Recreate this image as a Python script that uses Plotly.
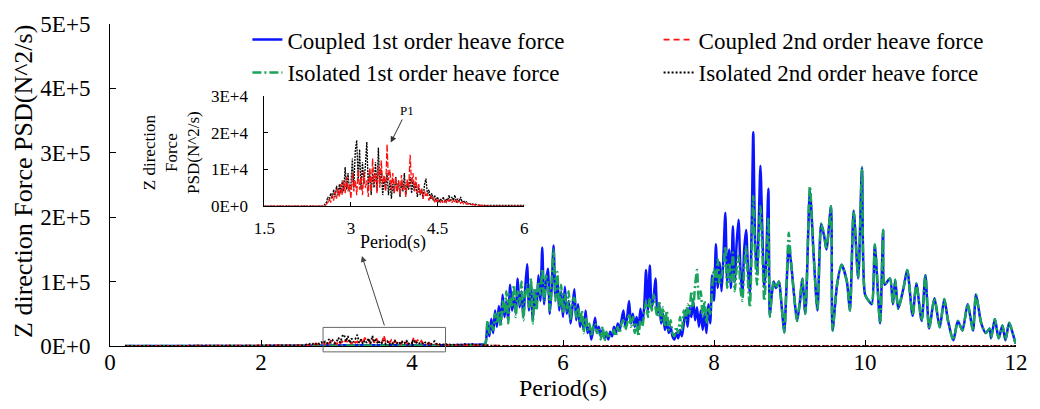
import plotly.graph_objects as go

# ---------------- data (PSD values; 1st order in units of 1E+5, 2nd order in units of 1E+4) -------------
period_1st = [
    0.2, 1.0, 2.0, 2.6, 3.0, 3.5, 4.0, 4.5, 4.8, 4.95,
    4.975,
    5.0, 5.025, 5.05, 5.075, 5.1, 5.125, 5.15, 5.175,
    5.2, 5.225, 5.25, 5.275, 5.3, 5.325, 5.35, 5.375,
    5.4, 5.425, 5.45, 5.475, 5.5, 5.525, 5.55, 5.575,
    5.6, 5.625, 5.65, 5.675, 5.7, 5.725, 5.75, 5.775,
    5.8, 5.825, 5.85, 5.875, 5.9, 5.925, 5.95, 5.975,
    6.0, 6.025, 6.05, 6.075, 6.1, 6.125, 6.15, 6.175,
    6.2, 6.225, 6.25, 6.275, 6.3, 6.325, 6.35, 6.375,
    6.4, 6.425, 6.45, 6.475, 6.5, 6.525, 6.55, 6.575,
    6.6, 6.625, 6.65, 6.675, 6.7, 6.725, 6.75, 6.775,
    6.8, 6.825, 6.85, 6.875, 6.9, 6.925, 6.95, 6.975,
    7.0, 7.025, 7.05, 7.075, 7.1, 7.125, 7.15, 7.175,
    7.2, 7.225, 7.25, 7.275, 7.3, 7.325, 7.35, 7.375,
    7.4, 7.425, 7.45, 7.475, 7.5, 7.525, 7.55, 7.575,
    7.6, 7.625, 7.65, 7.675, 7.7, 7.725, 7.75, 7.775,
    7.8, 7.825, 7.85, 7.875, 7.9, 7.925, 7.95, 7.975,
    8.0, 8.025, 8.05, 8.075, 8.1, 8.125, 8.15, 8.175,
    8.2, 8.225, 8.25, 8.275, 8.3, 8.325, 8.35, 8.375,
    8.4, 8.425, 8.45, 8.475, 8.5,
    8.52, 8.545, 8.57, 8.595, 8.615, 8.64, 8.665, 8.69, 8.72, 8.74,
    8.765, 8.79, 8.82, 8.86, 8.89, 8.93, 8.96, 8.99, 9.02, 9.06,
    9.1, 9.14, 9.17, 9.21, 9.27, 9.32, 9.37, 9.42, 9.46, 9.49,
    9.55, 9.57, 9.63, 9.69, 9.76, 9.8, 9.85, 9.91, 9.96, 10.0,
    10.05, 10.09, 10.13, 10.2, 10.24, 10.26, 10.33, 10.37, 10.4, 10.44,
    10.51, 10.56, 10.63, 10.68, 10.75, 10.8, 10.85, 10.92, 10.99, 11.05,
    11.1, 11.17, 11.23, 11.29, 11.36, 11.43, 11.47, 11.54, 11.6, 11.65,
    11.67, 11.72, 11.77, 11.82, 11.86, 11.91, 11.99, 12.0,
]

coupled_1st = [
    0, 0, 0, 0.005, 0.01, 0.01, 0.01, 0.012, 0.02, 0.03,
    0.05,
    0.35, 0.15, 0.42, 0.20, 0.55, 0.30, 0.62, 0.35,
    0.80, 0.45, 0.70, 0.40, 0.95, 0.55, 0.75, 0.50,
    1.05, 0.60, 0.85, 0.45, 0.90, 1.27, 0.55, 0.95,
    0.40, 0.85, 0.60, 1.10, 0.70, 1.53, 0.65, 1.00,
    1.20, 0.50, 0.90, 1.56, 0.75, 1.05, 0.55, 0.85,
    0.45, 0.92, 0.50, 0.70, 0.35, 0.60, 0.88, 0.40,
    0.65, 0.30, 0.45, 0.25, 0.55, 0.20, 0.30, 0.10,
    0.25, 0.44, 0.20, 0.30, 0.15, 0.25, 0.12, 0.20,
    0.10, 0.22, 0.15, 0.30, 0.20, 0.35, 0.25, 0.40,
    0.55, 0.30, 0.45, 0.70, 0.35, 0.50, 0.30, 0.45,
    0.25, 0.58, 0.35, 0.60, 1.18, 0.55, 1.25, 0.60,
    0.75, 1.05, 0.50, 0.65, 0.35, 0.50, 0.25, 0.40,
    0.20, 0.30, 0.15, 0.10, 0.20, 0.12, 0.25, 0.15,
    0.35, 0.55, 0.30, 0.60, 0.45, 0.70, 0.40, 0.60,
    0.30, 0.55, 0.25, 0.50, 0.20, 0.65, 0.35, 1.10,
    0.70, 1.58, 0.90, 1.30, 0.85, 1.40, 2.07, 1.00,
    1.50, 0.90, 1.86, 1.00, 1.60, 1.96, 1.20, 0.80,
    1.50, 1.80, 1.20, 0.80, 1.90,
    3.32, 1.60, 1.15, 2.00, 2.80, 1.80, 0.90, 1.30, 2.44, 0.47,
    0.80, 1.00, 0.90, 1.00, 0.70, 0.21, 0.90, 1.56, 1.30, 0.80,
    0.39, 0.70, 1.05, 0.50, 2.41, 1.41, 0.55, 1.90, 1.70, 1.50,
    2.17, 0.24, 0.95, 1.26, 1.00, 0.55, 2.10, 1.05, 2.77, 0.80,
    0.70, 0.65, 1.56, 0.35, 1.80, 0.95, 1.05, 0.65, 1.03, 0.58,
    0.90, 1.18, 0.47, 0.97, 0.39, 1.10, 0.27, 0.74, 0.29, 0.73,
    0.39, 0.09, 0.39, 0.24, 0.65, 0.24, 0.80, 0.35, 0.20, 0.27,
    0.12, 0.42, 0.12, 0.32, 0.09, 0.36, 0.06, 0.04,
]

isolated_1st = [
    0, 0, 0, 0.003, 0.006, 0.006, 0.006, 0.006, 0.01, 0.02,
    0.05,
    0.40, 0.20, 0.35, 0.25, 0.50, 0.35, 0.55, 0.30,
    0.70, 0.50, 0.85, 0.35, 0.80, 0.60, 0.95, 0.45,
    0.85, 0.65, 1.00, 0.40, 0.80, 0.95, 0.60, 1.05,
    0.35, 0.90, 0.55, 1.00, 0.80, 1.20, 0.70, 1.10,
    0.95, 0.55, 1.05, 1.50, 0.70, 1.15, 0.60, 0.95,
    0.50, 0.80, 0.55, 0.85, 0.40, 0.70, 0.75, 0.45,
    0.60, 0.35, 0.55, 0.20, 0.45, 0.25, 0.35, 0.15,
    0.30, 0.35, 0.20, 0.25, 0.10, 0.30, 0.08, 0.22,
    0.12, 0.18, 0.20, 0.25, 0.15, 0.30, 0.20, 0.35,
    0.40, 0.25, 0.35, 0.50, 0.30, 0.45, 0.20, 0.35,
    0.15, 0.40, 0.30, 0.50, 0.70, 0.45, 0.75, 0.55,
    0.80, 0.60, 0.45, 0.70, 0.40, 0.60, 0.30, 0.55,
    0.25, 0.40, 0.20, 0.15, 0.30, 0.20, 0.45, 0.25,
    0.55, 0.40, 0.65, 0.50, 0.85, 0.60, 0.95, 1.18,
    0.70, 0.85, 0.45, 0.70, 0.35, 0.60, 0.50, 0.90,
    1.20, 1.00, 1.35, 0.95, 1.10, 1.25, 1.55, 0.90,
    1.30, 1.00, 1.45, 0.85, 1.20, 1.40, 0.90, 0.70,
    1.20, 1.55, 1.00, 0.60, 1.50,
    2.33, 1.40, 0.95, 1.70, 2.17, 1.50, 0.70, 1.10, 2.00, 0.45,
    0.80, 1.00, 0.90, 1.00, 0.70, 0.21, 0.95, 1.76, 1.30, 0.80,
    0.39, 0.75, 1.05, 0.50, 2.48, 1.41, 0.55, 1.90, 1.72, 1.50,
    2.17, 0.24, 0.95, 1.26, 1.00, 0.55, 2.10, 1.05, 2.77, 0.80,
    0.70, 0.65, 1.58, 0.35, 1.80, 0.95, 1.05, 0.65, 1.03, 0.58,
    0.90, 1.18, 0.47, 0.97, 0.39, 1.10, 0.27, 0.74, 0.29, 0.73,
    0.39, 0.09, 0.39, 0.24, 0.65, 0.24, 0.80, 0.35, 0.20, 0.27,
    0.12, 0.42, 0.12, 0.32, 0.09, 0.36, 0.06, 0.04,
]

period_2nd = [
    0.2, 1.0, 2.0, 2.475,
    2.5, 2.525, 2.55, 2.575, 2.6, 2.625, 2.65, 2.675, 2.7, 2.725,
    2.75, 2.775, 2.8, 2.825, 2.85, 2.875, 2.9, 2.925, 2.95, 2.975,
    3.0, 3.025, 3.05, 3.075, 3.1, 3.125, 3.15, 3.175, 3.2, 3.225,
    3.25, 3.275, 3.3, 3.325, 3.35, 3.375, 3.4, 3.425, 3.45, 3.475,
    3.5, 3.525, 3.55, 3.575, 3.6, 3.625, 3.65, 3.675, 3.7, 3.725,
    3.75, 3.775, 3.8, 3.825, 3.85, 3.875, 3.9, 3.925, 3.95, 3.975,
    4.0, 4.025, 4.05, 4.075, 4.1, 4.125, 4.15, 4.175, 4.2, 4.225,
    4.25, 4.275, 4.3, 4.325, 4.35, 4.375, 4.4, 4.425, 4.45, 4.475,
    4.5, 4.525, 4.55, 4.575, 4.6, 4.625, 4.65, 4.675, 4.7, 4.725,
    4.75, 4.775, 4.8, 4.825, 4.85, 4.875, 4.9, 4.925, 4.95, 4.975,
    5.0, 5.025, 5.05, 5.075, 5.1, 5.125, 5.15, 5.175, 5.2, 5.225,
    5.25, 5.275, 5.3, 5.325, 5.35, 5.375, 5.4, 5.425, 5.45, 5.475, 5.5,
    6.0, 8.0, 10.0, 12.0,
]

coupled_2nd = [
    0, 0, 0, 0,
    0.00, 0.00, 0.00, 0.05, 0.10, 0.20, 0.10, 0.30, 0.15, 0.40,
    0.20, 0.50, 0.25, 0.60, 0.30, 0.70, 0.35, 0.80, 0.40, 0.60,
    0.20, 0.90, 0.40, 0.70, 0.30, 1.00, 0.45, 0.80, 0.30, 0.95,
    0.50, 0.70, 0.25, 1.05, 0.40, 1.30, 0.60, 0.90, 0.35, 1.10,
    0.50, 1.25, 0.60, 0.85, 0.40, 1.69, 0.70, 1.00, 0.45, 0.90,
    0.35, 0.80, 0.40, 0.70, 0.30, 0.85, 0.45, 0.60, 0.25, 0.75,
    0.50, 1.40, 0.60, 0.90, 0.40, 0.80, 0.35, 0.60, 0.30, 0.50,
    0.20, 0.40, 0.25, 0.35, 0.15, 0.30, 0.20, 0.25, 0.10, 0.20,
    0.12, 0.18, 0.10, 0.15, 0.08, 0.15, 0.10, 0.20, 0.12, 0.18,
    0.10, 0.15, 0.12, 0.20, 0.10, 0.15, 0.08, 0.12, 0.06, 0.10,
    0.05, 0.08, 0.04, 0.06, 0.03, 0.05, 0.02, 0.04, 0.02, 0.03,
    0.01, 0.02, 0.01, 0.01, 0.00, 0.00, 0.00, 0.00, 0.00, 0.00, 0.00,
    0, 0, 0, 0,
]

isolated_2nd = [
    0, 0, 0, 0,
    0.00, 0.00, 0.05, 0.10, 0.25, 0.15, 0.35, 0.20, 0.45, 0.25,
    0.55, 0.30, 0.60, 0.35, 0.70, 0.40, 1.07, 0.45, 0.90, 0.40,
    0.60, 1.30, 0.50, 1.50, 1.80, 0.70, 1.55, 0.45, 1.20, 0.60,
    1.10, 1.75, 0.50, 1.00, 0.30, 0.90, 0.50, 1.20, 0.40, 1.60,
    0.60, 1.00, 0.30, 0.80, 0.45, 0.90, 0.30, 0.70, 0.20, 0.60,
    0.35, 0.80, 0.40, 0.70, 0.25, 0.65, 0.40, 0.90, 0.30, 0.60,
    0.45, 0.80, 0.35, 0.70, 0.40, 0.60, 0.25, 0.55, 0.30, 0.45,
    0.20, 0.60, 0.75, 0.30, 0.45, 0.20, 0.35, 0.15, 0.30, 0.12,
    0.25, 0.10, 0.20, 0.12, 0.25, 0.10, 0.20, 0.15, 0.30, 0.12,
    0.25, 0.15, 0.30, 0.10, 0.20, 0.12, 0.25, 0.10, 0.15, 0.08,
    0.12, 0.06, 0.08, 0.05, 0.06, 0.04, 0.05, 0.03, 0.03, 0.02,
    0.02, 0.01, 0.01, 0.01, 0.01, 0.00, 0.00, 0.00, 0.00, 0.00, 0.00,
    0, 0, 0, 0,
]

UNIT_1ST = 1e5
UNIT_2ND = 1e4

series_names = ["Coupled 1st order heave force", "Coupled 2nd order heave force",
                "Isolated 1st order heave force", "Isolated 2nd order heave force"]

main_y_tickvals = [0, 1e5, 2e5, 3e5, 4e5, 5e5]
main_y_ticktext = ["0E+0", "1E+5", "2E+5", "3E+5", "4E+5", "5E+5"]
main_x_tickvals = [0, 2, 4, 6, 8, 10, 12]
inset_y_tickvals = [0, 1e4, 2e4, 3e4]
inset_y_ticktext = ["0E+0", "1E+4", "2E+4", "3E+4"]
inset_x_tickvals = [1.5, 3, 4.5, 6]
inset_x_ticktext = ["1.5", "3", "4.5", "6"]

assert len(period_1st) == len(coupled_1st) == len(isolated_1st)
assert len(period_2nd) == len(coupled_2nd) == len(isolated_2nd)

c1 = [v * UNIT_1ST for v in coupled_1st]
i1 = [v * UNIT_1ST for v in isolated_1st]
c2 = [v * UNIT_2ND for v in coupled_2nd]
i2 = [v * UNIT_2ND for v in isolated_2nd]

FONT = "Liberation Serif, Times New Roman, serif"
BLUE = "#0a14ff"
GREEN = "#1aa35a"
RED = "#ff1010"
BLACK = "#000000"

fig = go.Figure()
fig.add_trace(go.Scatter(x=period_1st, y=c1, mode="lines", name=series_names[0], legend="legend",
                         line=dict(color=BLUE, width=2.5, shape="spline", smoothing=0.7)))
fig.add_trace(go.Scatter(x=period_1st, y=i1, mode="lines", name=series_names[2], legend="legend",
                         line=dict(color=GREEN, width=2.5, dash="9px,3px,2px,3px", shape="spline", smoothing=0.7)))
fig.add_trace(go.Scatter(x=period_2nd, y=c2, mode="lines", name=series_names[1], legend="legend2",
                         line=dict(color=RED, width=1.8, dash="6px,4px")))
fig.add_trace(go.Scatter(x=period_2nd, y=i2, mode="lines", name=series_names[3], legend="legend2",
                         line=dict(color=BLACK, width=1.8, dash="2px,2px")))

# inset
fig.add_trace(go.Scatter(x=period_2nd, y=i2, mode="lines", showlegend=False, xaxis="x2", yaxis="y2",
                         line=dict(color=BLACK, width=1.3, dash="2px,1px")))
fig.add_trace(go.Scatter(x=period_2nd, y=c2, mode="lines", showlegend=False, xaxis="x2", yaxis="y2",
                         line=dict(color=RED, width=1.3, dash="6px,2px")))

W, H = 1040, 409
ML, MR, MT, MB = 110, 20, 17, 63
PW, PH = W - ML - MR, H - MT - MB


def px_to_paper(px, py):
    return (px - ML) / PW, (H - MB - py) / PH


ix0, iy0 = px_to_paper(265, 203)
ix1, iy1 = px_to_paper(526, 91)

axis_common = dict(showline=True, linecolor="black", linewidth=1, showgrid=False, zeroline=False,
                   ticks="inside", tickcolor="black", mirror=False)

fig.update_layout(
    width=W, height=H,
    margin=dict(l=ML, r=MR, t=MT, b=MB),
    paper_bgcolor="white", plot_bgcolor="rgba(0,0,0,0)",
    font=dict(family=FONT, color="black"),
    xaxis=dict(range=[0, 12], tickvals=main_x_tickvals, ticklen=6, tickfont=dict(size=23),
               ticklabelstandoff=-5, **axis_common),
    yaxis=dict(range=[0, 5e5], tickvals=main_y_tickvals, ticktext=main_y_ticktext, ticklen=6,
               tickfont=dict(size=23), ticklabelstandoff=14, **axis_common),
    xaxis2=dict(domain=[ix0, ix1], anchor="y2", range=[1.5, 6], tickvals=inset_x_tickvals,
                ticktext=inset_x_ticktext, ticklen=4, tickfont=dict(size=17), ticklabelstandoff=7,
                **axis_common),
    yaxis2=dict(domain=[iy0, iy1], anchor="x2", range=[0, 3e4], tickvals=inset_y_tickvals,
                ticktext=inset_y_ticktext, ticklen=4, tickfont=dict(size=17), ticklabelstandoff=12,
                **axis_common),
    legend=dict(x=px_to_paper(248, 0)[0], y=px_to_paper(0, 11)[1], xanchor="left", yanchor="top",
                bgcolor="rgba(0,0,0,0)", font=dict(size=23, family=FONT), tracegroupgap=0),
    legend2=dict(x=px_to_paper(661, 0)[0], y=px_to_paper(0, 11)[1], xanchor="left", yanchor="top",
                 bgcolor="rgba(0,0,0,0)", font=dict(size=23, family=FONT), tracegroupgap=0),
    showlegend=True,
)

annotations = []
# main axis titles
ax_, ay_ = px_to_paper(23, 178)
annotations.append(dict(text="Z direction Force PSD(N^2/s)", x=ax_, y=ay_, xref="paper", yref="paper",
                        textangle=-90, showarrow=False, font=dict(size=26), xanchor="center", yanchor="middle"))
ax_, ay_ = px_to_paper(565, 389)
annotations.append(dict(text="Period(s)", x=ax_, y=ay_, xref="paper", yref="paper", showarrow=False,
                        font=dict(size=24), xanchor="center", yanchor="middle"))
# inset titles
ax_, ay_ = px_to_paper(171, 148)
annotations.append(dict(text="Z direction<br>Force<br>PSD(N^2/s)", x=ax_, y=ay_, xref="paper", yref="paper",
                        textangle=-90, showarrow=False, font=dict(size=17), xanchor="center", yanchor="middle"))
ax_, ay_ = px_to_paper(394, 240)
annotations.append(dict(text="Period(s)", x=ax_, y=ay_, xref="paper", yref="paper", showarrow=False,
                        font=dict(size=18), xanchor="center", yanchor="middle"))
# P1 marker
annotations.append(dict(text="P1", x=3.69, y=1.74e4, xref="x2", yref="y2", showarrow=True,
                        ax=16, ay=-32, arrowhead=2, arrowsize=1.2, arrowwidth=1, arrowcolor="#333",
                        font=dict(size=13)))
# arrow from zoom box to inset
hx, hy = px_to_paper(363, 254)
annotations.append(dict(text="", x=hx, y=hy, xref="paper", yref="paper", showarrow=True,
                        ax=23, ay=71, arrowhead=2, arrowsize=1.2, arrowwidth=1, arrowcolor="#444"))
fig.update_layout(annotations=annotations)

# zoom box around the 2nd order region
rx0, ry0 = px_to_paper(324, 352)
rx1, ry1 = px_to_paper(447, 327)
fig.add_shape(type="rect", xref="paper", yref="paper", x0=rx0, x1=rx1, y0=ry0, y1=ry1,
              line=dict(color="#666", width=1), fillcolor="rgba(0,0,0,0)")

fig.write_html("out.html")
